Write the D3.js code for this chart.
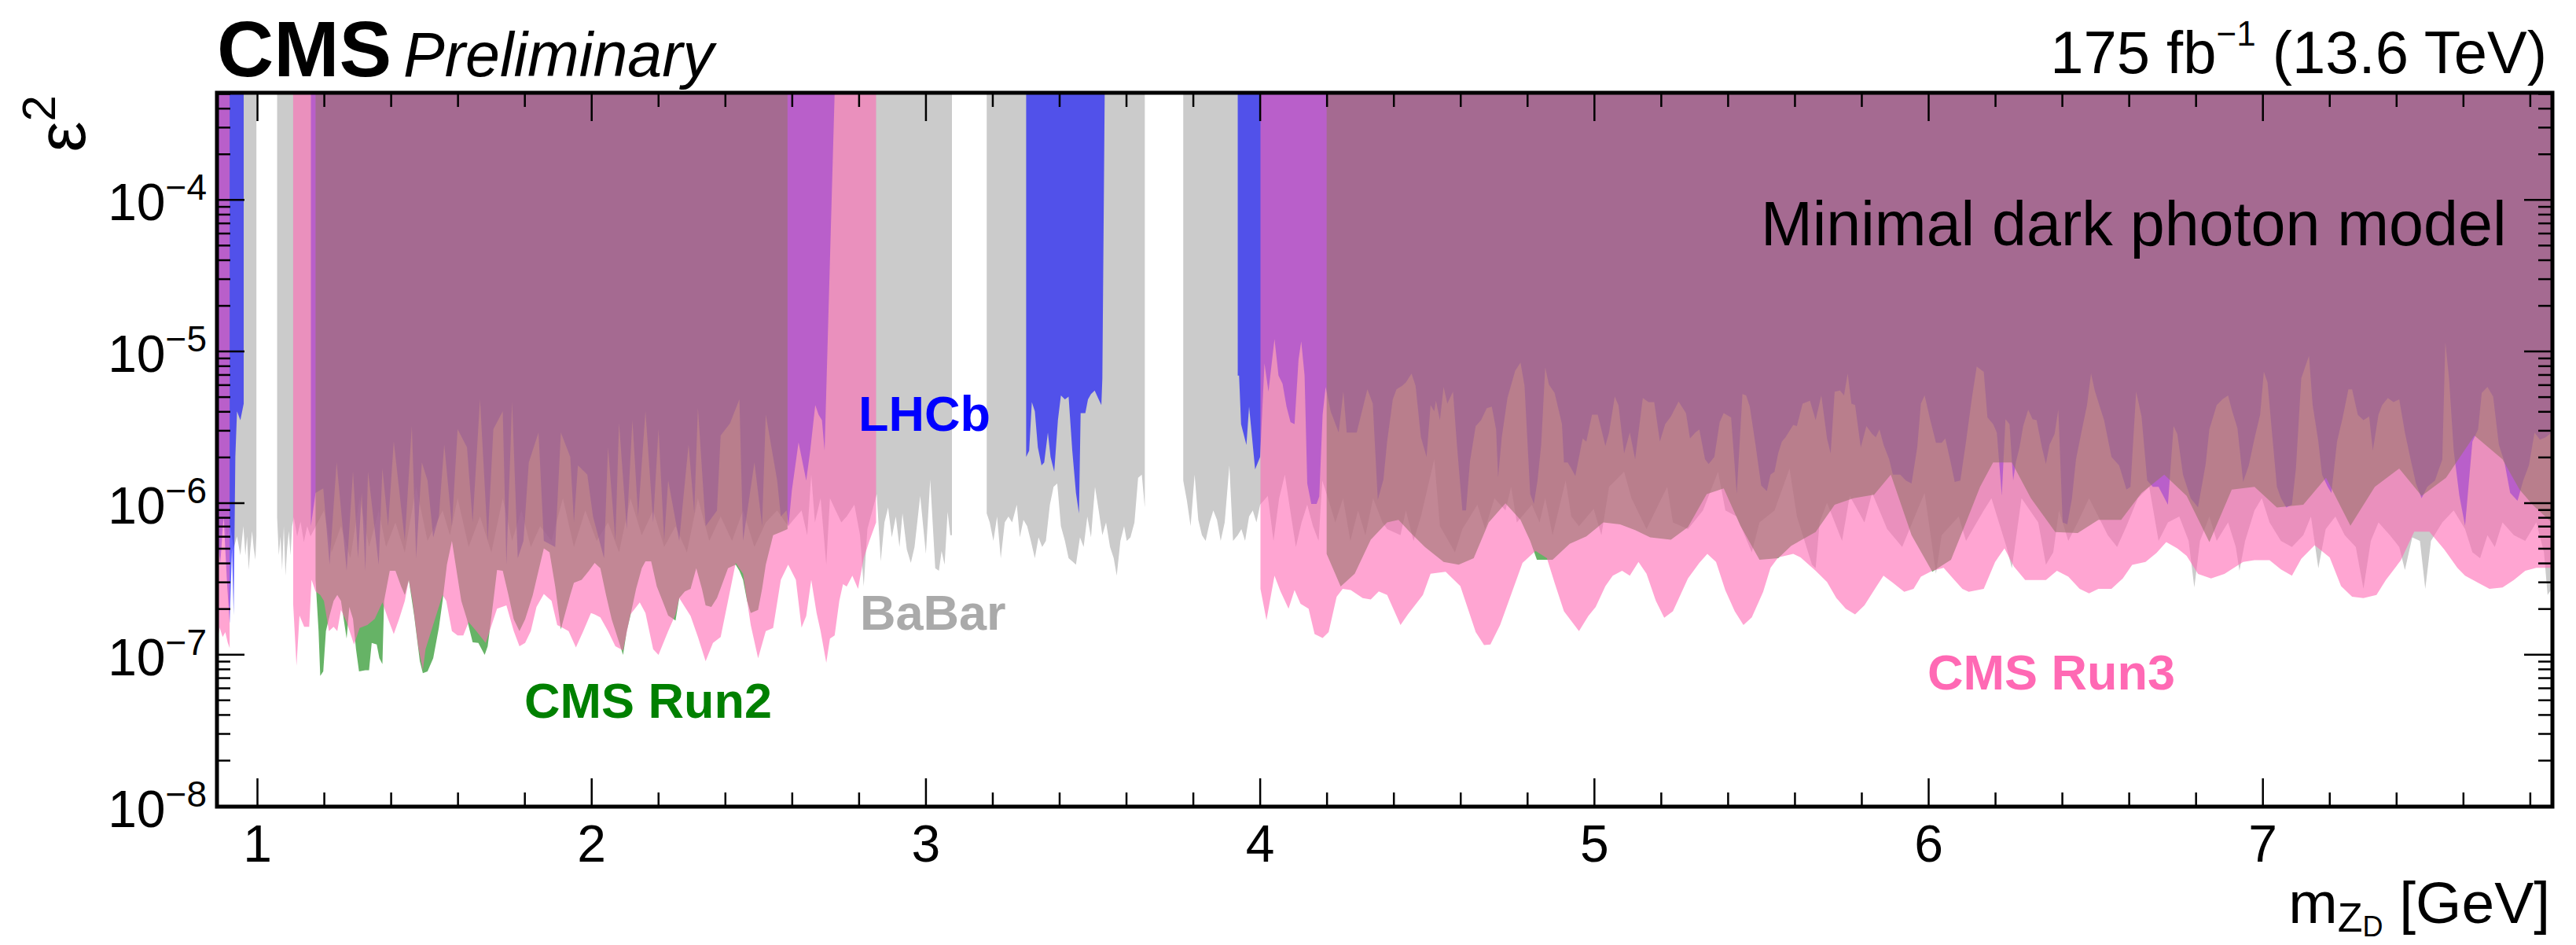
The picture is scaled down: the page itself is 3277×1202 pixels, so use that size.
<!DOCTYPE html>
<html>
<head>
<meta charset="utf-8">
<script src="https://cdn.jsdelivr.net/npm/d3@7"></script>
<style>
  html, body { margin: 0; padding: 0; background: #fff; }
  svg { display: block; font-family: "Liberation Sans", Arial, Helvetica, sans-serif; }
</style>
</head>
<body>
<div class="chart"></div>
<script>
// excluded regions: each segment is a list of [mZD (GeV), eps^2 lower edge]; region is filled up to the top

const babar1 = [[0.880,8e-7],[0.890,6e-7],[0.900,8e-7],[0.910,6e-7],[0.920,7e-7],[0.930,5e-7],[0.940,6e-7],[0.950,4.5e-7],[0.959,7e-7],[0.965,4.5e-7],[0.970,6e-7],[0.975,3.6e-7],[0.980,5e-7],[0.985,6.5e-7],[0.990,5e-7],[0.995,4.2e-7],[0.998,6e-7]];
const babar2 = [[1.060,8e-7],[1.065,4.5e-7],[1.070,6e-7],[1.075,3.6e-7],[1.080,7e-7],[1.085,3.3e-7],[1.090,5e-7],[1.095,6.5e-7],[1.100,4.5e-7],[1.105,7e-7],[1.110,8e-7],[1.120,6e-7],[1.130,7.5e-7],[1.140,5.5e-7],[1.150,7e-7],[1.160,6e-7],[1.200,8.9e-7],[1.223,4.7e-7],[1.251,7e-7],[1.279,4.3e-7],[1.307,1.07e-6],[1.335,5.1e-7],[1.364,8.9e-7],[1.386,5.1e-7],[1.414,7.4e-7],[1.442,4.7e-7],[1.476,1.27e-6],[1.510,5.6e-7],[1.555,8.9e-7],[1.577,6.1e-7],[1.600,1.07e-6],[1.633,5.1e-7],[1.667,8.1e-7],[1.701,4.7e-7],[1.735,1.07e-6],[1.763,5.6e-7],[1.791,8.9e-7],[1.819,5.1e-7],[1.847,7e-7],[1.881,5.6e-7],[1.915,1.07e-6],[1.948,5.1e-7],[1.982,8.9e-7],[2.016,5.6e-7],[2.050,7.4e-7],[2.083,4.7e-7],[2.117,1.07e-6],[2.151,6.1e-7],[2.185,8.9e-7],[2.218,5.1e-7],[2.252,7e-7],[2.286,4.7e-7],[2.319,1.07e-6],[2.353,5.6e-7],[2.387,8.1e-7],[2.421,5.6e-7],[2.454,8.9e-7],[2.488,5.1e-7],[2.522,7.4e-7],[2.556,8.9e-7],[2.589,7e-7],[2.629,8.9e-7],[2.646,6.1e-7],[2.658,1.53e-6],[2.669,7.4e-7],[2.686,1.07e-6],[2.703,3.9e-7],[2.714,1.07e-6],[2.731,8.9e-7],[2.748,7.4e-7],[2.764,8.1e-7],[2.787,9.7e-7],[2.804,6.1e-7],[2.815,2.8e-7],[2.826,6.7e-7],[2.841,8.9e-7],[2.854,1.14e-6],[2.866,4.1e-7],[2.877,7.4e-7],[2.888,9.3e-7],[2.899,5.9e-7],[2.911,8.1e-7],[2.922,5.1e-7],[2.931,8.5e-7],[2.944,4.9e-7],[2.956,4.0e-7],[2.967,5.1e-7],[2.984,1.11e-6],[3.001,4.6e-7],[3.014,1.42e-6],[3.029,3.7e-7],[3.040,3.55e-7],[3.048,4.8e-7],[3.057,3.9e-7],[3.066,8.7e-7],[3.074,6.1e-7],[3.079,6.1e-7]];
const babar3 = [[3.183,8.5e-7],[3.192,7.4e-7],[3.203,5.6e-7],[3.214,8.1e-7],[3.225,4.3e-7],[3.237,7.4e-7],[3.248,8.1e-7],[3.259,7.4e-7],[3.273,9.7e-7],[3.282,5.9e-7],[3.293,7.7e-7],[3.304,7e-7],[3.315,5.6e-7],[3.327,4.3e-7],[3.338,5.9e-7],[3.349,5.1e-7],[3.360,5.6e-7],[3.372,9.7e-7],[3.383,1.27e-6],[3.394,1.34e-6],[3.405,7e-7],[3.417,5.6e-7],[3.428,4.3e-7],[3.439,4.1e-7],[3.450,3.9e-7],[3.462,5.9e-7],[3.473,5.1e-7],[3.484,8.1e-7],[3.495,5.9e-7],[3.507,1.27e-6],[3.518,8.9e-7],[3.529,6.1e-7],[3.540,7.4e-7],[3.552,5.1e-7],[3.563,4.3e-7],[3.572,3.3e-7],[3.583,5.6e-7],[3.594,7e-7],[3.602,5.6e-7],[3.613,5.9e-7],[3.625,7.4e-7],[3.636,1.46e-6],[3.647,1.53e-6],[3.656,9.3e-7]];
const babar4 = [[3.771,1.4e-6],[3.782,1.03e-6],[3.793,7e-7],[3.805,1.53e-6],[3.816,7.7e-7],[3.827,6.1e-7],[3.838,5.6e-7],[3.850,7.4e-7],[3.861,8.9e-7],[3.872,7.7e-7],[3.883,5.6e-7],[3.895,7.4e-7],[3.909,1.76e-6],[3.920,5.6e-7],[3.934,6.1e-7],[3.945,6.7e-7],[3.956,5.6e-7],[3.968,8.1e-7],[3.979,8.9e-7],[3.990,7.4e-7],[4.001,9.7e-7],[4.024,1.11e-6],[4.041,5.6e-7],[4.058,1.07e-6],[4.075,1.53e-6],[4.091,8.9e-7],[4.108,5.1e-7],[4.125,7.4e-7],[4.142,9.7e-7],[4.159,7e-7],[4.176,5.6e-7],[4.187,1.4e-6],[4.204,1.07e-6],[4.226,7.4e-7],[4.249,1.07e-6],[4.271,5.6e-7],[4.294,8.9e-7],[4.316,6.1e-7],[4.339,1.07e-6],[4.367,7.4e-7],[4.381,6.7e-7],[4.421,6.1e-7],[4.437,8.9e-7],[4.460,5.6e-7],[4.482,8.1e-7],[4.522,1.93e-6],[4.539,7e-7],[4.584,4.7e-7],[4.606,6.7e-7],[4.651,9.7e-7],[4.674,6.7e-7],[4.702,1.07e-6],[4.735,8.9e-7],[4.752,1.27e-6],[4.769,7.4e-7],[4.814,9.7e-7],[4.837,7.4e-7],[4.854,1.07e-6],[4.876,6.1e-7],[4.915,1.4e-6],[4.932,8.1e-7],[4.955,7e-7],[4.999,9.1e-7],[5.022,6.1e-7],[5.045,1.27e-6],[5.090,1.6e-6],[5.112,1.07e-6],[5.157,6.7e-7],[5.202,1.07e-6],[5.219,1.27e-6],[5.236,7.4e-7],[5.281,6.7e-7],[5.326,8.9e-7],[5.371,1.6e-6],[5.393,8.9e-7],[5.427,8.1e-7],[5.472,4.7e-7],[5.495,7.4e-7],[5.540,8.9e-7],[5.585,1.68e-6],[5.607,8.1e-7],[5.652,3.9e-7],[5.663,3.7e-7],[5.675,7.4e-7],[5.697,1.0e-6],[5.742,5.6e-7],[5.765,1.11e-6],[5.809,7.4e-7],[5.832,1.16e-6],[5.877,6.7e-7],[5.922,5.1e-7],[5.967,8.9e-7],[5.989,1.16e-6],[6.012,5.1e-7],[6.023,3.4e-7],[6.040,6.1e-7],[6.091,8.1e-7],[6.113,5.6e-7],[6.166,8.9e-7],[6.189,1.07e-6],[6.234,5.1e-7],[6.250,3.7e-7],[6.279,1.07e-6],[6.329,7.4e-7],[6.352,3.9e-7],[6.374,4.7e-7],[6.391,8.9e-7],[6.419,5.6e-7],[6.447,7.4e-7],[6.481,1.07e-6],[6.509,8.1e-7],[6.537,6.1e-7],[6.565,5.1e-7],[6.593,7e-7],[6.627,1.07e-6],[6.661,1.27e-6],[6.689,5.6e-7],[6.717,7.4e-7],[6.751,8.1e-7],[6.779,5.6e-7],[6.796,2.76e-7],[6.813,5.6e-7],[6.841,8.1e-7],[6.863,5.6e-7],[6.897,7.4e-7],[6.920,5.1e-7],[6.931,3.55e-7],[6.948,5.6e-7],[6.976,8.9e-7],[6.998,1.07e-6],[7.021,7.4e-7],[7.055,5.6e-7],[7.088,5.1e-7],[7.122,6.1e-7],[7.145,8.1e-7],[7.167,3.7e-7],[7.189,6.7e-7],[7.218,8.1e-7],[7.246,6.1e-7],[7.279,5.1e-7],[7.302,2.7e-7],[7.324,5.6e-7],[7.347,7.4e-7],[7.381,6.1e-7],[7.409,5.1e-7],[7.426,3.6e-7],[7.448,5.9e-7],[7.471,5.6e-7],[7.487,2.7e-7],[7.504,5.6e-7],[7.538,7.4e-7],[7.572,8.9e-7],[7.606,6.7e-7],[7.628,4.7e-7],[7.651,4.3e-7],[7.673,6.1e-7],[7.695,5.1e-7],[7.718,7.4e-7],[7.752,6.1e-7],[7.786,5.6e-7],[7.819,7.4e-7],[7.842,4.7e-7],[7.853,2.46e-7],[7.865,2.7e-7]];

const lhcb1 = [[0.880,6e-7],[0.890,4e-7],[0.900,8e-7],[0.910,3e-7],[0.918,1.6e-7],[0.925,5e-7],[0.930,1.8e-7],[0.935,2e-6],[0.940,4e-6],[0.950,3.5e-6],[0.960,4.5e-6]];
const lhcb2 = [[1.161,7e-7],[1.175,1.16e-6],[1.198,1.24e-6],[1.217,3.9e-7],[1.238,1.84e-6],[1.268,3.55e-7],[1.287,1.6e-6],[1.302,4.3e-7],[1.313,1.16e-6],[1.324,3.55e-7],[1.332,1.6e-6],[1.364,3.9e-7],[1.375,1.68e-6],[1.392,7e-7],[1.409,2.53e-6],[1.442,5.6e-7],[1.463,3.19e-6],[1.476,4.3e-7],[1.493,1.84e-6],[1.510,1.4e-6],[1.527,5.9e-7],[1.544,8.1e-7],[1.560,2.42e-6],[1.583,7e-7],[1.600,3.05e-6],[1.628,2.32e-6],[1.645,7.4e-7],[1.667,4.8e-6],[1.690,5.6e-7],[1.707,3.05e-6],[1.735,4.0e-6],[1.746,3.9e-7],[1.763,4.6e-6],[1.780,4.3e-7],[1.797,5.6e-7],[1.813,1.84e-6],[1.842,2.9e-6],[1.858,5.6e-7],[1.892,5.1e-7],[1.909,2.9e-6],[1.937,2.0e-6],[1.948,7.4e-7],[1.960,1.76e-6],[1.988,1.53e-6],[2.005,8.1e-7],[2.038,4.3e-7],[2.050,2.32e-6],[2.072,5.6e-7],[2.083,3.34e-6],[2.106,6.7e-7],[2.123,3.49e-6],[2.140,8.1e-7],[2.162,4.0e-6],[2.185,7.4e-7],[2.201,3.05e-6],[2.218,5.6e-7],[2.230,1.4e-6],[2.263,5.6e-7],[2.291,2.42e-6],[2.308,8.5e-7],[2.319,4.2e-6],[2.342,7e-7],[2.376,8.85e-7],[2.387,2.77e-6],[2.415,3.34e-6],[2.443,4.8e-6],[2.454,5.6e-7],[2.488,1.84e-6],[2.511,7e-7],[2.522,3.8e-6],[2.556,1.4e-6],[2.567,8.1e-7],[2.584,8.9e-7],[2.590,7e-7],[2.600,1.2e-6],[2.620,2.5e-6],[2.643,1.4e-6],[2.655,2.2e-6],[2.670,4.4e-6],[2.680,3.8e-6],[2.690,3.5e-6],[2.698,2.2e-6],[2.728,5e-4]];
const lhcb3 = [[3.301,2.0e-6],[3.310,2.2e-6],[3.318,4.6e-6],[3.327,4.0e-6],[3.336,2.32e-6],[3.347,1.76e-6],[3.355,1.84e-6],[3.366,2.9e-6],[3.374,2.0e-6],[3.385,1.6e-6],[3.396,3.5e-6],[3.405,5.1e-6],[3.417,4.8e-6],[3.428,5.0e-6],[3.439,2.2e-6],[3.450,1.16e-6],[3.459,8.5e-7],[3.464,3.9e-6],[3.478,3.9e-6],[3.486,4.8e-6],[3.495,5.2e-6],[3.506,5.5e-6],[3.518,4.8e-6],[3.526,4.4e-6],[3.529,6.6e-6],[3.536,5e-4]];
const lhcb4 = [[3.934,6.9e-6],[3.938,6.9e-6],[3.944,3.3e-6],[3.960,2.4e-6],[3.968,4.3e-6],[3.986,1.66e-6],[4.001,2.0e-6],[4.014,8.3e-6],[4.026,5.4e-6],[4.044,1.2e-5],[4.056,6.9e-6],[4.068,6.1e-6],[4.080,4.3e-6],[4.092,3.4e-6],[4.104,3.3e-6],[4.116,8.8e-6],[4.124,1.16e-5],[4.134,6.9e-6],[4.142,1.34e-6],[4.154,9.8e-7],[4.170,9.8e-7],[4.178,1.1e-6],[4.188,3.8e-6],[4.197,5.8e-6],[4.212,4.0e-6],[4.236,2.9e-6],[4.250,5.4e-6],[4.260,2.9e-6],[4.290,2.9e-6],[4.322,5.6e-6],[4.338,4.5e-6],[4.353,1.04e-6],[4.370,1.42e-6],[4.381,2.53e-6],[4.398,4.8e-6],[4.409,5.6e-6],[4.426,5.9e-6],[4.437,6.2e-6],[4.454,7.1e-6],[4.466,5.9e-6],[4.482,2.7e-6],[4.499,2.0e-6],[4.511,4.4e-6],[4.522,4.0e-6],[4.527,4.7e-6],[4.539,3.5e-6],[4.550,5.8e-6],[4.561,4.5e-6],[4.578,5.4e-6],[4.589,2.53e-6],[4.606,8.9e-7],[4.617,8.9e-7],[4.629,1.88e-6],[4.646,3.2e-6],[4.662,3.5e-6],[4.679,4.2e-6],[4.694,4.3e-6],[4.707,3.04e-6],[4.713,1.46e-6],[4.724,2.7e-6],[4.741,4.9e-6],[4.764,7.4e-6],[4.780,8.4e-6],[4.792,5.9e-6],[4.809,1.14e-6],[4.820,9.8e-7],[4.831,1.4e-6],[4.842,2.42e-6],[4.854,7.8e-6],[4.865,6.0e-6],[4.882,5.3e-6],[4.904,3.3e-6],[4.910,1.84e-6],[4.921,1.84e-6],[4.932,1.68e-6],[4.944,1.5e-6],[4.966,2.65e-6],[4.977,2.53e-6],[4.994,3.8e-6],[5.011,3.8e-6],[5.034,2.37e-6],[5.045,2.9e-6],[5.062,5.0e-6],[5.073,4.4e-6],[5.090,2.11e-6],[5.107,2.9e-6],[5.123,1.93e-6],[5.146,4.9e-6],[5.163,4.6e-6],[5.180,4.6e-6],[5.197,2.53e-6],[5.213,3.3e-6],[5.230,3.7e-6],[5.253,4.65e-6],[5.275,3.9e-6],[5.287,2.65e-6],[5.303,2.9e-6],[5.315,3.04e-6],[5.332,1.93e-6],[5.343,1.8e-6],[5.360,2.0e-6],[5.376,3.4e-6],[5.388,3.9e-6],[5.410,3.65e-6],[5.427,1.14e-6],[5.444,5.2e-6],[5.455,5.1e-6],[5.466,4.3e-6],[5.483,2.42e-6],[5.500,1.3e-6],[5.517,1.19e-6],[5.528,1.53e-6],[5.540,1.6e-6],[5.551,2.11e-6],[5.562,2.53e-6],[5.573,2.7e-6],[5.596,3.26e-6],[5.607,3.2e-6],[5.624,4.5e-6],[5.646,4.7e-6],[5.663,3.5e-6],[5.680,5.1e-6],[5.697,2.65e-6],[5.708,2.11e-6],[5.720,5.4e-6],[5.736,5.5e-6],[5.748,5.1e-6],[5.759,7.1e-6],[5.770,4.5e-6],[5.781,4.4e-6],[5.798,2.31e-6],[5.815,3.2e-6],[5.832,2.84e-6],[5.843,2.7e-6],[5.854,3.04e-6],[5.866,2.42e-6],[5.883,1.93e-6],[5.894,1.53e-6],[5.916,1.53e-6],[5.933,1.4e-6],[5.950,1.34e-6],[5.967,2.31e-6],[5.978,4.5e-6],[5.989,5.1e-6],[6.006,3.5e-6],[6.023,2.48e-6],[6.040,2.48e-6],[6.051,2.65e-6],[6.068,1.8e-6],[6.079,1.37e-6],[6.096,1.4e-6],[6.113,2.53e-6],[6.130,4.8e-6],[6.145,7.9e-6],[6.155,7.6e-6],[6.166,7.3e-6],[6.177,3.65e-6],[6.194,3.3e-6],[6.205,2.9e-6],[6.220,1.11e-6],[6.231,3.55e-6],[6.243,3.3e-6],[6.254,1.4e-6],[6.262,1.84e-6],[6.273,2.31e-6],[6.284,3.2e-6],[6.299,4.1e-6],[6.312,3.55e-6],[6.324,3.5e-6],[6.340,2.31e-6],[6.352,1.8e-6],[6.363,2.42e-6],[6.378,2.84e-6],[6.389,4.1e-6],[6.402,7.4e-7],[6.416,7.2e-7],[6.430,1.07e-6],[6.442,1.93e-6],[6.458,2.9e-6],[6.475,4.4e-6],[6.487,7.1e-6],[6.498,5.5e-6],[6.513,4.3e-6],[6.526,3.5e-6],[6.548,2.0e-6],[6.571,1.76e-6],[6.593,1.22e-6],[6.605,1.27e-6],[6.622,5.4e-6],[6.638,3.7e-6],[6.655,1.4e-6],[6.672,1.27e-6],[6.689,1.27e-6],[6.717,9.7e-7],[6.734,3.2e-6],[6.745,2.84e-6],[6.762,1.53e-6],[6.785,1.07e-6],[6.807,9.3e-7],[6.830,1.8e-6],[6.841,3.04e-6],[6.863,4.4e-6],[6.880,4.8e-6],[6.897,5.1e-6],[6.908,4.1e-6],[6.925,3.1e-6],[6.942,1.37e-6],[6.959,1.76e-6],[6.976,2.65e-6],[6.993,3.8e-6],[7.004,7.3e-6],[7.015,6.2e-6],[7.026,3.3e-6],[7.043,1.27e-6],[7.055,1.07e-6],[7.071,9.3e-7],[7.088,9.7e-7],[7.100,1.68e-6],[7.116,6.6e-6],[7.128,7.9e-6],[7.139,9.3e-6],[7.150,4.4e-6],[7.167,2.53e-6],[7.178,1.53e-6],[7.195,1.27e-6],[7.206,1.16e-6],[7.223,2.53e-6],[7.240,3.65e-6],[7.257,5.6e-6],[7.268,5.6e-6],[7.285,3.8e-6],[7.302,3.5e-6],[7.319,3.7e-6],[7.330,2.2e-6],[7.347,3.8e-6],[7.358,4.4e-6],[7.375,4.9e-6],[7.392,4.6e-6],[7.409,4.8e-6],[7.426,2.9e-6],[7.443,1.93e-6],[7.459,1.34e-6],[7.476,1.07e-6],[7.493,1.27e-6],[7.516,1.4e-6],[7.538,1.93e-6],[7.547,1.14e-5],[7.558,6.6e-6],[7.572,2.2e-6],[7.589,1.11e-6],[7.606,7.05e-7],[7.628,2.53e-6],[7.645,3.04e-6],[7.656,5.3e-6],[7.673,5.8e-6],[7.690,5.0e-6],[7.707,2.42e-6],[7.724,1.84e-6],[7.741,1.16e-6],[7.763,1.03e-6],[7.780,1.4e-6],[7.797,1.76e-6],[7.814,2.9e-6],[7.830,2.6e-6],[7.847,2.7e-6],[7.865,2.9e-6]];

const run2a = [[1.175,3.1e-7],[1.184,1.42e-7],[1.189,7.2e-8],[1.198,7.7e-8],[1.206,1.42e-7],[1.217,1.8e-7],[1.229,2.25e-7],[1.240,2.46e-7],[1.251,2.25e-7],[1.268,1.27e-7],[1.276,2.05e-7],[1.287,1.71e-7],[1.296,1.08e-7],[1.305,7.7e-8],[1.324,7.85e-8],[1.335,7.85e-8],[1.343,1.19e-7],[1.358,1.16e-7],[1.366,9.4e-8],[1.375,8.6e-8],[1.380,2.25e-7],[1.397,3.55e-7],[1.414,3.55e-7],[1.431,2.8e-7],[1.442,2.46e-7],[1.454,3.1e-7],[1.470,1.8e-7],[1.487,9.0e-8],[1.496,7.5e-8],[1.510,7.7e-8],[1.527,9.4e-8],[1.544,1.5e-7],[1.555,2.25e-7],[1.568,3.9e-7],[1.583,5.6e-7],[1.594,3.9e-7],[1.611,2.25e-7],[1.628,1.7e-7],[1.645,1.2e-7],[1.662,1.19e-7],[1.681,9.9e-8],[1.690,1.13e-7],[1.707,2.25e-7],[1.718,3.6e-7],[1.735,3.55e-7],[1.752,2.46e-7],[1.768,1.7e-7],[1.785,1.42e-7],[1.802,1.7e-7],[1.825,2.46e-7],[1.842,3.55e-7],[1.858,5.0e-7],[1.875,4.7e-7],[1.892,2.8e-7],[1.909,1.46e-7],[1.920,1.8e-7],[1.937,2.46e-7],[1.948,2.96e-7],[1.971,3.1e-7],[1.993,3.55e-7],[2.010,4.0e-7],[2.027,3.7e-7],[2.044,2.46e-7],[2.061,1.7e-7],[2.078,1.3e-7],[2.095,9.9e-8],[2.106,1.42e-7],[2.117,1.8e-7],[2.134,2.7e-7],[2.151,3.7e-7],[2.162,4.1e-7],[2.179,4.1e-7],[2.196,2.8e-7],[2.213,2.25e-7],[2.230,1.8e-7],[2.252,1.67e-7],[2.263,2.35e-7],[2.280,2.6e-7],[2.297,2.7e-7],[2.314,3.7e-7],[2.331,2.7e-7],[2.342,2.1e-7],[2.359,2.05e-7],[2.376,2.35e-7],[2.393,2.96e-7],[2.409,3.7e-7],[2.432,3.9e-7],[2.443,3.55e-7],[2.454,3.1e-7],[2.466,2.25e-7],[2.477,1.87e-7],[2.499,1.96e-7],[2.511,2.7e-7],[2.522,3.9e-7],[2.544,6.1e-7],[2.567,6.4e-7],[2.587,6.7e-7]];
const run2b = [[4.200,4.6e-7],[4.242,2.8e-7],[4.284,3.4e-7],[4.332,5.7e-7],[4.381,7.4e-7],[4.415,7.7e-7],[4.449,6.4e-7],[4.494,5.1e-7],[4.550,4.07e-7],[4.595,3.9e-7],[4.640,4.3e-7],[4.685,7.4e-7],[4.735,9.9e-7],[4.780,7.7e-7],[4.809,5.6e-7],[4.829,4.2e-7],[4.876,4.2e-7],[4.927,5.35e-7],[4.977,6.0e-7],[5.028,7.4e-7],[5.078,7.2e-7],[5.123,6.6e-7],[5.168,5.9e-7],[5.230,5.7e-7],[5.281,6.9e-7],[5.337,1.14e-6],[5.388,1.24e-6],[5.438,7.05e-7],[5.495,4.2e-7],[5.551,4.3e-7],[5.590,5.2e-7],[5.663,6.4e-7],[5.720,9.7e-7],[5.776,1.07e-6],[5.838,1.13e-6],[5.888,1.53e-6],[5.950,6.1e-7],[6.012,3.5e-7],[6.068,4.2e-7],[6.113,7.4e-7],[6.155,1.27e-6],[6.194,1.84e-6],[6.250,1.84e-6],[6.307,1.07e-6],[6.380,6.4e-7],[6.447,6.3e-7],[6.509,7.7e-7],[6.577,7.7e-7],[6.638,1.16e-6],[6.706,1.53e-6],[6.773,1.11e-6],[6.841,5.5e-7],[6.908,1.22e-6],[6.976,1.27e-6],[7.043,9.3e-7],[7.122,9.7e-7],[7.190,1.46e-6],[7.263,7.05e-7],[7.336,1.27e-6],[7.409,1.68e-6],[7.476,1.11e-6],[7.549,1.46e-6],[7.634,2.77e-6],[7.718,1.93e-6],[7.769,1.22e-6],[7.808,9.7e-7],[7.865,7.4e-7]];

const run3a = [[0.880,1.2e-7],[0.888,1.5e-7],[0.897,1.3e-7],[0.905,1.4e-7],[0.912,1.2e-7],[0.918,1.1e-7]];
const run3b = [[1.108,2.15e-7],[1.118,8.4e-8],[1.127,1.8e-7],[1.141,1.52e-7],[1.156,1.52e-7],[1.163,3.1e-7],[1.175,2.6e-7],[1.189,2.46e-7],[1.200,2.25e-7],[1.215,1.42e-7],[1.229,1.52e-7],[1.240,1.42e-7],[1.251,1.96e-7],[1.268,1.63e-7],[1.290,1.16e-7],[1.307,1.49e-7],[1.330,1.56e-7],[1.352,1.71e-7],[1.375,2.2e-7],[1.392,1.71e-7],[1.409,1.36e-7],[1.425,1.71e-7],[1.442,2.25e-7],[1.454,3.1e-7],[1.465,2.25e-7],[1.482,1.13e-7],[1.496,7.85e-8],[1.504,1.08e-7],[1.521,1.42e-7],[1.538,1.87e-7],[1.555,2.46e-7],[1.566,2.25e-7],[1.583,1.42e-7],[1.600,1.33e-7],[1.617,1.33e-7],[1.633,1.63e-7],[1.656,1.42e-7],[1.684,1.19e-7],[1.718,2.0e-7],[1.746,2.1e-7],[1.768,1.42e-7],[1.785,1.13e-7],[1.802,1.19e-7],[1.819,1.42e-7],[1.836,2.05e-7],[1.858,2.5e-7],[1.881,2.25e-7],[1.898,1.56e-7],[1.915,1.49e-7],[1.932,1.42e-7],[1.954,1.11e-7],[1.976,1.42e-7],[1.999,1.87e-7],[2.010,1.83e-7],[2.027,1.75e-7],[2.050,1.42e-7],[2.072,1.13e-7],[2.095,1.06e-7],[2.117,1.83e-7],[2.145,2.2e-7],[2.162,1.87e-7],[2.185,1.08e-7],[2.201,9.9e-8],[2.230,1.42e-7],[2.252,1.83e-7],[2.263,2.35e-7],[2.297,1.79e-7],[2.319,1.3e-7],[2.342,9.0e-8],[2.364,1.19e-7],[2.387,1.3e-7],[2.409,2.25e-7],[2.432,4.0e-7],[2.454,3.4e-7],[2.477,1.56e-7],[2.499,9.4e-8],[2.522,1.42e-7],[2.544,1.49e-7],[2.567,3.1e-7],[2.589,3.9e-7],[2.612,3.1e-7],[2.629,1.5e-7],[2.643,1.79e-7],[2.658,3.1e-7],[2.674,1.87e-7],[2.686,1.42e-7],[2.703,8.8e-8],[2.714,1.27e-7],[2.728,1.33e-7],[2.742,2.25e-7],[2.753,2.9e-7],[2.764,2.8e-7],[2.781,3.3e-7],[2.798,2.7e-7],[2.815,4.3e-7],[2.832,5.6e-7],[2.852,7.4e-7]];
const run3c = [[4.002,2.7e-7],[4.020,1.68e-7],[4.044,3.3e-7],[4.062,2.6e-7],[4.086,2.0e-7],[4.104,2.65e-7],[4.122,2.15e-7],[4.146,2.0e-7],[4.164,1.36e-7],[4.188,1.28e-7],[4.206,1.4e-7],[4.230,2.4e-7],[4.248,2.7e-7],[4.272,2.65e-7],[4.308,2.35e-7],[4.332,2.3e-7],[4.356,2.6e-7],[4.381,2.46e-7],[4.421,1.56e-7],[4.443,1.83e-7],[4.488,2.46e-7],[4.511,3.4e-7],[4.556,3.5e-7],[4.600,2.82e-7],[4.646,1.4e-7],[4.671,1.15e-7],[4.690,1.16e-7],[4.719,1.56e-7],[4.758,2.7e-7],[4.786,4.0e-7],[4.825,4.8e-7],[4.859,4.3e-7],[4.882,2.96e-7],[4.910,1.92e-7],[4.955,1.42e-7],[4.983,1.79e-7],[5.005,2.05e-7],[5.034,2.82e-7],[5.056,3.3e-7],[5.084,3.55e-7],[5.107,3.3e-7],[5.133,4.07e-7],[5.157,3.4e-7],[5.185,2.25e-7],[5.210,1.74e-7],[5.236,1.92e-7],[5.281,3.16e-7],[5.315,4.0e-7],[5.339,4.6e-7],[5.365,4.07e-7],[5.393,2.64e-7],[5.421,1.92e-7],[5.447,1.56e-7],[5.472,1.75e-7],[5.506,2.58e-7],[5.528,3.72e-7],[5.551,4.35e-7],[5.596,4.6e-7],[5.618,4.35e-7],[5.663,3.55e-7],[5.697,3.0e-7],[5.725,2.35e-7],[5.753,2.0e-7],[5.781,1.83e-7],[5.809,2.1e-7],[5.843,2.76e-7],[5.866,3.3e-7],[5.894,2.96e-7],[5.928,2.58e-7],[5.956,2.7e-7],[5.978,3.25e-7],[6.012,3.55e-7],[6.046,3.72e-7],[6.074,3.16e-7],[6.102,2.7e-7],[6.121,2.58e-7],[6.166,2.7e-7],[6.200,4.07e-7],[6.228,5.0e-7],[6.256,3.8e-7],[6.290,3.09e-7],[6.352,3.09e-7],[6.385,3.55e-7],[6.419,3.25e-7],[6.453,2.7e-7],[6.481,2.52e-7],[6.509,2.7e-7],[6.548,2.7e-7],[6.582,3.16e-7],[6.610,3.89e-7],[6.650,4.07e-7],[6.683,4.67e-7],[6.712,5.5e-7],[6.745,5.0e-7],[6.773,4.46e-7],[6.807,3.39e-7],[6.846,3.16e-7],[6.886,3.39e-7],[6.942,4.07e-7],[6.976,4.17e-7],[7.021,4.17e-7],[7.055,3.63e-7],[7.088,3.3e-7],[7.116,4.26e-7],[7.156,5.24e-7],[7.201,4.35e-7],[7.235,2.82e-7],[7.268,2.4e-7],[7.302,2.35e-7],[7.341,2.46e-7],[7.369,3.09e-7],[7.414,4.17e-7],[7.454,6.43e-7],[7.499,6.43e-7],[7.544,4.9e-7],[7.583,3.72e-7],[7.606,3.3e-7],[7.645,2.96e-7],[7.679,2.7e-7],[7.718,2.76e-7],[7.752,3.09e-7],[7.786,3.55e-7],[7.819,3.72e-7],[7.865,3.72e-7]];

const xMajorTicks = [1, 2, 3, 4, 5, 6, 7];
const yMajorTicks = [1e-8, 1e-7, 1e-6, 1e-5, 1e-4];
const yTickExp = ["−8", "−7", "−6", "−5", "−4"];

const series = [
  { name: "BaBar",    segs: [babar1, babar2, babar3, babar4], color: "#cbcbcb", alpha: 1 },
  { name: "LHCb",     segs: [lhcb1, lhcb2, lhcb3, lhcb4],     color: "#0000ff", alpha: 0.6 },
  { name: "CMS Run2", segs: [run2a, run2b],                    color: "#008000", alpha: 0.6 },
  { name: "CMS Run3", segs: [run3a, run3b, run3c],             color: "#ff69b4", alpha: 0.6 }
];

const W = 3277, H = 1202;
const pl = 276, pr = 3246, pt = 119, pb = 1025;

const svg = d3.select(".chart").append("svg")
  .attr("width", W).attr("height", H)
  .attr("viewBox", `0 0 ${W} ${H}`);

const x = d3.scaleLinear().domain([0.88, 7.865]).range([pl, pr]);
const y = d3.scaleLog().domain([1e-8, 5e-4]).range([pb, pt]);

svg.append("clipPath").attr("id", "plot")
  .append("rect").attr("x", pl).attr("y", pt)
  .attr("width", pr - pl).attr("height", pb - pt);

const area = d3.area()
  .x(d => x(d[0]))
  .y0(pt)
  .y1(d => y(d[1]));

const plot = svg.append("g").attr("clip-path", "url(#plot)");

series.forEach(s => {
  plot.append("g")
    .selectAll("path")
    .data(s.segs)
    .join("path")
    .attr("d", area)
    .attr("fill", s.color)
    .attr("fill-opacity", s.alpha);
});

// axes, ticks inside the frame
const xMinor = d3.range(1.2, 7.9, 0.2).filter(v => Math.abs(v - Math.round(v)) > 0.01);
const yMinor = [];
[-8, -7, -6, -5, -4].forEach(k => d3.range(2, 10).forEach(j => {
  const v = j * Math.pow(10, k);
  if (v <= 5e-4) yMinor.push(v);
}));

function clean(g) {
  g.select(".domain").remove();
  g.selectAll(".tick line").attr("stroke", "#000").attr("stroke-width", 2.5);
}

svg.append("g").attr("transform", `translate(0,${pb})`)
  .call(d3.axisBottom(x).tickValues(xMajorTicks).tickSize(-35).tickPadding(24).tickFormat(d3.format("d")))
  .call(clean)
  .call(g => g.selectAll("text").attr("font-size", 66).attr("fill", "#000")
    .attr("font-family", "Liberation Sans, Arial, sans-serif"));
svg.append("g").attr("transform", `translate(0,${pb})`)
  .call(d3.axisBottom(x).tickValues(xMinor).tickSize(-17).tickFormat(""))
  .call(clean);
svg.append("g").attr("transform", `translate(0,${pt})`)
  .call(d3.axisTop(x).tickValues(xMajorTicks).tickSize(-35).tickFormat(""))
  .call(clean);
svg.append("g").attr("transform", `translate(0,${pt})`)
  .call(d3.axisTop(x).tickValues(xMinor).tickSize(-17).tickFormat(""))
  .call(clean);

const yAxis = svg.append("g").attr("transform", `translate(${pl},0)`)
  .call(d3.axisLeft(y).tickValues(yMajorTicks).tickSize(-35).tickFormat(""))
  .call(clean);
yAxis.selectAll(".tick").append("text")
  .attr("x", -13).attr("y", 26)
  .attr("text-anchor", "end")
  .attr("fill", "#000")
  .attr("font-size", 66)
  .attr("font-family", "Liberation Sans, Arial, sans-serif")
  .each(function(d, i) {
    const t = d3.select(this);
    t.append("tspan").text("10");
    t.append("tspan").attr("font-size", 46).attr("dy", -26).text(yTickExp[i]);
  });
svg.append("g").attr("transform", `translate(${pl},0)`)
  .call(d3.axisLeft(y).tickValues(yMinor).tickSize(-17).tickFormat(""))
  .call(clean);
svg.append("g").attr("transform", `translate(${pr},0)`)
  .call(d3.axisRight(y).tickValues(yMajorTicks).tickSize(-35).tickFormat(""))
  .call(clean);
svg.append("g").attr("transform", `translate(${pr},0)`)
  .call(d3.axisRight(y).tickValues(yMinor).tickSize(-17).tickFormat(""))
  .call(clean);

// frame
svg.append("rect")
  .attr("x", pl).attr("y", pt - 1)
  .attr("width", pr - pl + 1).attr("height", pb - pt + 2)
  .attr("fill", "none").attr("stroke", "#000").attr("stroke-width", 5);

// axis titles
const xt = svg.append("text")
  .attr("x", 3244).attr("y", 1174)
  .attr("text-anchor", "end").attr("font-size", 75).attr("fill", "#000");
xt.append("tspan").text("m");
xt.append("tspan").attr("font-size", 52).attr("dy", 11).text("Z");
xt.append("tspan").attr("font-size", 36).attr("dy", 6).text("D");
xt.append("tspan").attr("dy", -17).text(" [GeV]");

const yt = svg.append("text")
  .attr("transform", "translate(108,121) rotate(-90)")
  .attr("text-anchor", "end").attr("font-size", 88).attr("fill", "#000");
yt.append("tspan").text("ε");
yt.append("tspan").attr("font-size", 60).attr("dy", -38).text("2");

// header
svg.append("text").attr("x", 276).attr("y", 97)
  .attr("font-size", 100).attr("font-weight", "bold").text("CMS");
svg.append("text").attr("x", 513).attr("y", 97)
  .attr("font-size", 79).attr("font-style", "italic").text("Preliminary");
const lumi = svg.append("text").attr("x", 3240).attr("y", 93)
  .attr("text-anchor", "end").attr("font-size", 76);
lumi.append("tspan").text("175 fb");
lumi.append("tspan").attr("font-size", 44).attr("dy", -35).text("−1");
lumi.append("tspan").attr("dy", 35).text(" (13.6 TeV)");

// in-plot labels
svg.append("text").attr("x", 2240).attr("y", 312)
  .attr("font-size", 79).attr("fill", "#000").text("Minimal dark photon model");

const labels = [
  { text: "LHCb",     x: 1092, y: 548, color: "#0000ff" },
  { text: "BaBar",    x: 1094, y: 801, color: "#aaaaaa" },
  { text: "CMS Run2", x: 667,  y: 913, color: "#008000" },
  { text: "CMS Run3", x: 2452, y: 877, color: "#ff69b4" }
];
svg.append("g").selectAll("text")
  .data(labels)
  .join("text")
  .attr("x", d => d.x).attr("y", d => d.y)
  .attr("font-size", 63).attr("font-weight", "bold")
  .attr("fill", d => d.color)
  .text(d => d.text);
</script>
</body>
</html>
